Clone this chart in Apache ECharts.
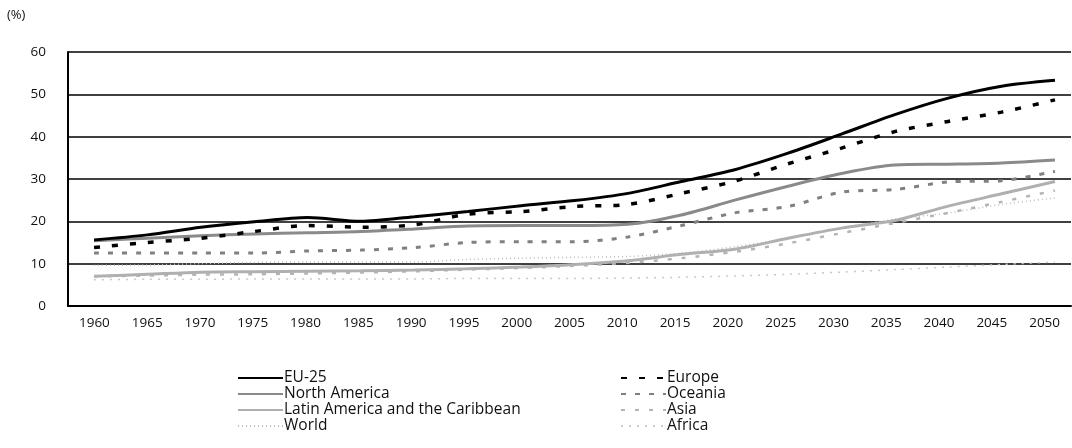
<!DOCTYPE html>
<html>
<head>
<meta charset="utf-8">
<script src="https://cdn.jsdelivr.net/npm/echarts@6/dist/echarts.min.js"></script>
<style>
html,body{margin:0;padding:0;background:#fff;}
#chart{width:1072px;height:448px;}
</style>
</head>
<body>
<div id="chart"></div>
<script>
const years = [1960,1965,1970,1975,1980,1985,1990,1995,2000,2005,2010,2015,2020,2025,2030,2035,2040,2045,2050];
const yTicks = [0,10,20,30,40,50,60];
const eu25 =         [15.6,16.8,18.6,19.9,20.9,20.0,21.1,22.3,23.7,24.9,26.6,29.4,32.2,36.1,40.6,45.2,49.1,51.9,53.3];
const northAmerica = [15.4,16.0,16.6,17.0,17.3,17.6,18.2,18.9,19.0,19.0,19.3,21.5,25.0,28.3,31.3,33.3,33.5,33.8,34.5];
const latinAmerica = [7.0,7.5,8.0,8.1,8.2,8.3,8.5,8.8,9.2,9.8,10.7,12.2,13.4,16.0,18.4,20.2,23.6,26.5,29.4];
const world =        [9.6,9.7,10.0,10.3,10.4,10.4,10.4,11.0,11.3,11.5,11.7,12.5,14.0,16.0,18.5,20.5,22.0,24.0,25.5];
const europe =       [13.8,15.0,16.0,17.6,19.0,18.6,19.2,21.7,22.3,23.5,24.0,26.6,29.5,33.6,37.3,41.2,43.6,45.8,48.7];
const oceania =      [12.5,12.5,12.5,12.5,13.0,13.2,13.8,15.0,15.2,15.2,16.3,19.0,22.0,23.5,26.9,27.5,29.3,29.6,31.8];
const asia =         [7.0,7.2,7.4,7.5,7.7,7.9,8.2,8.6,9.0,9.5,10.2,11.3,12.8,14.8,17.2,19.6,22.0,24.6,27.3];
const africa =       [6.2,6.3,6.3,6.4,6.4,6.4,6.4,6.5,6.5,6.5,6.6,6.8,7.1,7.5,8.0,8.6,9.2,9.8,10.4];

const pairs = arr => years.map((y,i)=>[y,arr[i]]);
const font = "'Open Sans', 'Noto Sans', sans-serif";

function mk(name, arr, color, width, type, z){
  return {
    name, type:'line', xAxisIndex:1, data:pairs(arr), symbol:'none', smooth:0.3,
    lineStyle:{color, width, type}, itemStyle:{color}, z:z
  };
}

const legendText = {fontSize:15.5,color:'#111',fontFamily:font,lineHeight:16,padding:[0,0,0,-4]};

const chart = echarts.init(document.getElementById('chart'));
chart.setOption({
  animation:false,
  backgroundColor:'#fff',
  textStyle:{fontFamily:font},
  grid:{left:68,right:1,top:52,bottom:142},
  graphic:[{type:'text',left:7,top:9,style:{text:'(%)',font:'13px '+font,fill:'#111'}}],
  xAxis:[
    {type:'category',data:years.map(String),boundaryGap:true,
     axisLine:{lineStyle:{color:'#000',width:2}},
     axisTick:{inside:true,length:4,lineStyle:{color:'#000',width:1.5}},
     axisLabel:{color:'#111',fontSize:13.5,margin:10,fontFamily:font,interval:0},
     splitLine:{show:false}},
    {type:'value',min:1957.56,max:2051.5,show:false,splitLine:{show:false}}
  ],
  yAxis:{type:'value',min:yTicks[0],max:yTicks[yTicks.length-1],interval:10,
    axisLine:{show:true,lineStyle:{color:'#000',width:2}},
    axisTick:{show:false},
    axisLabel:{color:'#111',fontSize:13.5,margin:22,fontFamily:font},
    splitLine:{lineStyle:{color:'#000',width:1.6}}},
  legend:[
    {orient:'vertical',left:232,top:365,itemWidth:45,itemHeight:12,itemGap:0,
     itemStyle:{opacity:0},
     data:['EU-25','North America','Latin America and the Caribbean','World'],
     textStyle:legendText},
    {orient:'vertical',left:615,top:365,itemWidth:45,itemHeight:12,itemGap:0,
     itemStyle:{opacity:0},
     data:['Europe','Oceania','Asia','Africa'],
     textStyle:legendText}
  ],
  series:[
    mk('Africa', africa, '#c8c8c8', 1.5, [2,6], 2),
    mk('World', world, '#bdbdbd', 1.5, [1,3], 3),
    mk('Asia', asia, '#b4b4b4', 2.5, [4,10], 4),
    mk('Latin America and the Caribbean', latinAmerica, '#b0b0b0', 3, 'solid', 5),
    mk('Oceania', oceania, '#808080', 3, [5,9], 6),
    mk('North America', northAmerica, '#8a8a8a', 3, 'solid', 7),
    mk('Europe', europe, '#000', 3.5, [6,12], 8),
    mk('EU-25', eu25, '#000', 3, 'solid', 9)
  ]
});
</script>
</body>
</html>
